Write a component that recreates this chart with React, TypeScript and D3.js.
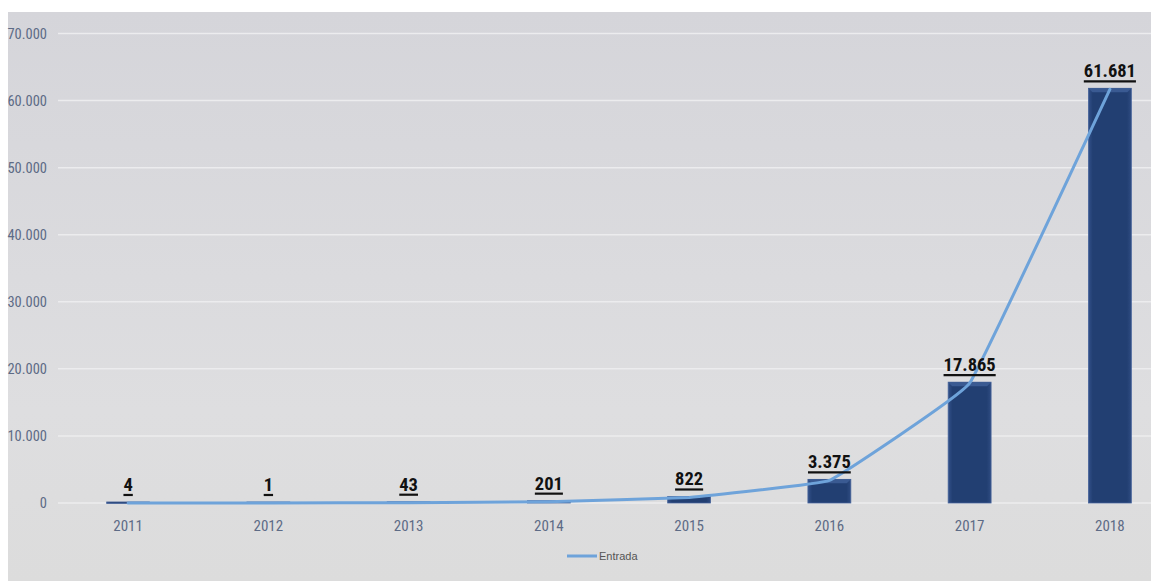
import React, { useEffect, useRef } from "react";
import * as d3 from "d3";

const years = ["2011", "2012", "2013", "2014", "2015", "2016", "2017", "2018"];
const entrada = [4, 1, 43, 201, 822, 3375, 17865, 61681];
const yTicks = [0, 10000, 20000, 30000, 40000, 50000, 60000, 70000];
const seriesName = "Entrada";

const W = 1151;
const H = 581;
const NARROW = "'Liberation Sans Narrow', 'Arial Narrow', 'Roboto Condensed', sans-serif";

export default function App() {
  const ref = useRef<SVGSVGElement | null>(null);

  useEffect(() => {
    const svg = d3.select(ref.current);
    svg.selectAll("*").remove();

    const loc = d3.formatLocale({ decimal: ",", thousands: ".", grouping: [3], currency: ["", ""] });
    const fmt = loc.format(",d");

    const x = d3.scaleBand<string>().domain(years).range([58, 1180]).paddingInner(0.694).paddingOuter(0.347);
    const y = d3.scaleLinear().domain([0, 70000]).range([503, 33.5]);

    const defs = svg.append("defs");
    const bg = defs.append("linearGradient").attr("id", "bg").attr("x1", 0).attr("y1", 0).attr("x2", 0).attr("y2", 1);
    bg.append("stop").attr("offset", "0%").attr("stop-color", "#d5d5da");
    bg.append("stop").attr("offset", "70%").attr("stop-color", "#dedee0");
    bg.append("stop").attr("offset", "100%").attr("stop-color", "#dcdcdc");
    const bar = defs.append("linearGradient").attr("id", "bar").attr("x1", 0).attr("y1", 0).attr("x2", 1).attr("y2", 0);
    bar.append("stop").attr("offset", "0%").attr("stop-color", "#33518a");
    bar.append("stop").attr("offset", "10%").attr("stop-color", "#223f72");
    bar.append("stop").attr("offset", "90%").attr("stop-color", "#223f72");
    bar.append("stop").attr("offset", "100%").attr("stop-color", "#2f4c82");

    svg.append("rect").attr("x", 8).attr("y", 12).attr("width", W - 8).attr("height", H - 12).attr("fill", "url(#bg)");

    // gridlines
    svg.append("g").selectAll("line").data(yTicks).join("line")
      .attr("x1", 58).attr("x2", W)
      .attr("y1", (d) => y(d)).attr("y2", (d) => y(d))
      .attr("stroke", "#ececee").attr("stroke-width", 1.5);

    // y tick labels
    svg.append("g").selectAll("text").data(yTicks).join("text")
      .attr("x", 47).attr("y", (d) => y(d) + 5)
      .attr("text-anchor", "end")
      .attr("font-family", NARROW).attr("font-size", 14.5)
      .attr("fill", "#5d6b86")
      .text((d) => fmt(d));

    // x tick labels
    svg.append("g").selectAll("text").data(years).join("text")
      .attr("x", (d) => (x(d) as number) + x.bandwidth() / 2).attr("y", 531)
      .attr("text-anchor", "middle")
      .attr("font-family", NARROW).attr("font-size", 15)
      .attr("fill", "#5d6b86")
      .text((d) => d);

    const data = years.map((yr, i) => ({ yr, v: entrada[i] }));

    // bars
    const bars = svg.append("g");
    bars.selectAll("rect").data(data).join("rect")
      .attr("x", (d) => x(d.yr) as number)
      .attr("y", (d) => y(d.v) - 1)
      .attr("width", x.bandwidth())
      .attr("height", (d) => Math.max(1.5, y(0) - y(d.v) + 1))
      .attr("fill", "url(#bar)")
      .attr("stroke", "#46639a").attr("stroke-width", 0.8);
    // top bevel
    bars.selectAll("path").data(data.filter((d) => y(0) - y(d.v) > 8)).join("path")
      .attr("d", (d) => {
        const x0 = x(d.yr) as number;
        const bw = x.bandwidth();
        const t = y(d.v) - 1;
        return `M${x0},${t}L${x0 + bw},${t}L${x0 + bw - 4},${t + 4}L${x0 + 4},${t + 4}Z`;
      })
      .attr("fill", "#3a5a92");

    // line
    const line = d3.line<{ yr: string; v: number }>()
      .x((d) => (x(d.yr) as number) + x.bandwidth() / 2)
      .y((d) => y(d.v))
      .curve(d3.curveCardinal.tension(0.8));
    svg.append("path").datum(data).attr("d", line)
      .attr("fill", "none").attr("stroke", "#6ea3da").attr("stroke-width", 3).attr("stroke-linecap", "round");

    // value labels
    const lg = svg.append("g");
    data.forEach((d) => {
      const cx = (x(d.yr) as number) + x.bandwidth() / 2;
      const by = y(d.v) - 12;
      const t = lg.append("text")
        .attr("x", cx).attr("y", by)
        .attr("text-anchor", "middle")
        .attr("font-family", NARROW).attr("font-size", 18.5).attr("font-weight", "bold")
        .attr("fill", "#111")
        .text(fmt(d.v));
      const w = (t.node() as SVGTextElement).getComputedTextLength();
      lg.append("line")
        .attr("x1", cx - w / 2).attr("x2", cx + w / 2)
        .attr("y1", by + 4).attr("y2", by + 4)
        .attr("stroke", "#111").attr("stroke-width", 2.2);
    });

    // legend
    svg.append("line").attr("x1", 567).attr("x2", 597).attr("y1", 556).attr("y2", 556)
      .attr("stroke", "#6ea3da").attr("stroke-width", 3);
    svg.append("text").attr("x", 599).attr("y", 560)
      .attr("font-family", "'Liberation Sans', Arial, sans-serif").attr("font-size", 11)
      .attr("fill", "#555").text(seriesName);
  }, []);

  return (
    <svg ref={ref} width={W} height={H} style={{ position: "absolute", left: 0, top: 0, background: "#fff" }} />
  );
}
